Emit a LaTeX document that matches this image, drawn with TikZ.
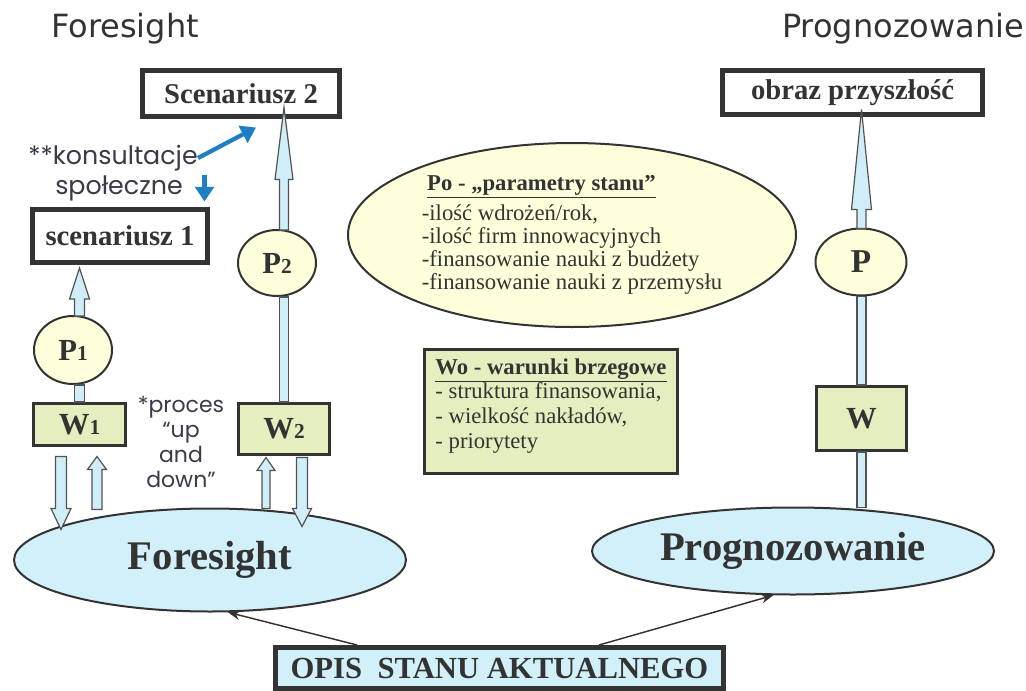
\documentclass[tikz,border=0pt]{standalone}
\usepackage{fontspec}
\setmainfont{Liberation Serif}
\newfontfamily\dvs{DejaVu Sans}
\newfontfamily\ppn{Poppins}
\usetikzlibrary{shapes.geometric,arrows.meta,calc}
\definecolor{dk}{HTML}{333333}
\definecolor{notec}{HTML}{3A3A48}
\definecolor{cyanf}{HTML}{D2F0FA}
\definecolor{arrf}{HTML}{D0EEF8}
\definecolor{yelf}{HTML}{FFFFDC}
\definecolor{grnf}{HTML}{E4EEBE}
\definecolor{blu}{HTML}{1E7FC2}
\newdimen\pxu \pxu=0.75pt
\newcommand\smdig[1]{{\fontsize{16}{16}\selectfont #1}}
\newcommand\thickul[1]{\underline{\smash{#1}}}
% block arrow: start, tip, half shaft, half head, signed head length (px)
\newcommand\blockarr[5]{%
  \draw[barrow] let \p1=(#1), \p2=(#2), \n1={\y2-(#5)*\pxu} in
    ({\x1-#3*\pxu},\y1) -- ({\x1-#3*\pxu},\n1) -- ({\x1-#4*\pxu},\n1)
    -- (\x1,\y2) -- ({\x1+#4*\pxu},\n1) -- ({\x1+#3*\pxu},\n1)
    -- ({\x1+#3*\pxu},\y1) -- cycle;}
\newcommand\shaft[3]{%
  \draw[barrow] let \p1=(#1), \p2=(#2) in
    ({\x1-#3*\pxu},\y1) rectangle ({\x1+#3*\pxu},\y2);}
\tikzset{
 sbox/.style={draw=dk, line width=3.75pt, fill=white, inner sep=0pt, text=dk,
   font=\bfseries\fontsize{21.5}{24}\selectfont},
 wbox/.style={draw=dk, line width=2.25pt, fill=grnf, inner sep=0pt, text=dk,
   font=\bfseries\fontsize{23}{26}\selectfont},
 pcirc/.style={ellipse, draw=dk, line width=1.5pt, fill=yelf, inner sep=0pt, text=dk,
   font=\bfseries\fontsize{23}{26}\selectfont},
 bigell/.style={ellipse, draw=dk, line width=1.5pt, fill=cyanf, inner sep=0pt, text=dk,
   font=\bfseries\fontsize{30.5}{34}\selectfont},
 ttl/.style={text=dk, font=\dvs\fontsize{24}{28}\selectfont, inner sep=0pt},
 note/.style={text=notec, align=center, inner sep=0pt},
 barrow/.style={draw=dk!85, line width=0.9pt, fill=arrf, line join=miter},
 thinarr/.style={draw=dk, line width=1.1pt, -{Stealth[length=9pt,width=7pt]}},
 bluearr/.style={draw=blu, line width=3.2pt, -{Triangle[length=11pt,width=14pt]}},
}
\begin{document}
\begin{tikzpicture}[x=0.75pt,y=-0.75pt]
\useasboundingbox (0,0) rectangle (1026,690);

% titles
\node[ttl] (T1) at (125,29) {Foresight};
\node[ttl] (T2) at (903,29) {Prognozowanie};

% top boxes
\node[sbox, minimum width=197*\pxu, minimum height=46*\pxu] (S2) at (241,93.5) {Scenariusz 2};
\node[sbox, minimum width=175*\pxu, minimum height=53*\pxu] (S1) at (120,236) {scenariusz 1};
\node[sbox, minimum width=260*\pxu, minimum height=44*\pxu] (O) at (852.5,92.5) {obraz przyszłość};

% P circles
\node[pcirc, minimum width=78*\pxu, minimum height=68*\pxu] (P1) at (73,350) {P\smdig{1}};
\node[pcirc, minimum width=78*\pxu, minimum height=66*\pxu] (P2) at (277,263) {P\smdig{2}};
\node[pcirc, minimum width=91*\pxu, minimum height=67*\pxu, font=\bfseries\fontsize{25}{28}\selectfont] (P) at (861,262) {P};

% W boxes
\node[wbox, minimum width=92*\pxu, minimum height=42*\pxu] (W1) at (79.5,424.5) {W\smdig{1}};
\node[wbox, minimum width=91*\pxu, minimum height=51*\pxu] (W2) at (284,429) {W\smdig{2}};
\node[wbox, minimum width=90*\pxu, minimum height=64*\pxu] (W) at (861.5,418.5) {W};

% Po ellipse
\node[ellipse, draw=dk, line width=1.5pt, fill=yelf, inner sep=0pt, text=dk, align=left,
      minimum width=448*\pxu, minimum height=184*\pxu,
      font=\fontsize{17}{17.3}\selectfont] (Po) at (572,235)
  {\hspace{4pt}{\bfseries\underline{Po - „parametry stanu”}}\\[4pt]
   -ilość wdrożeń/rok,\\
   -ilość firm innowacyjnych\\
   -finansowanie nauki z budżety\\
   -finansowanie nauki z przemysłu};

% Wo box
\node[draw=dk, line width=2.6pt, fill=grnf, inner sep=0pt, text=dk, align=left,
      minimum width=252.5*\pxu, minimum height=123.5*\pxu,
      font=\fontsize{17}{18.5}\selectfont] (Wo) at (551,411.5)
  {{\bfseries\underline{Wo - warunki brzegowe}}\\
   - struktura finansowania,\\
   - wielkość nakładów,\\
   - priorytety\\[-6pt]\mbox{}};

% big ellipses
\node[bigell, minimum width=392*\pxu, minimum height=103*\pxu] (Fel) at (210,560) {Foresight};
\node[bigell, minimum width=402*\pxu, minimum height=87*\pxu] (Pel) at (793,551) {Prognozowanie};

% OPIS box
\node[sbox, fill=cyanf, minimum width=448*\pxu, minimum height=41*\pxu,
      font=\bfseries\fontsize{23}{24}\selectfont] (OP) at (499.5,668) {OPIS\ \ STANU AKTUALNEGO};

% notes
\node[note, font=\ppn\fontsize{19}{22}\selectfont] (K1) at (113,158) {**konsultacje};
\node[note, font=\ppn\fontsize{19}{22}\selectfont] (K2) at (119,188) {społeczne};
\node[note, font=\ppn\fontsize{16.5}{18.75}\selectfont] (UD) at (181,442)
  {*proces\\“up\\and\\down”};

% block arrows - left column
\blockarr{$(W1.north |- P1.north)+(0,1)$}{$(W1.north |- S1.south)+(0,3)$}{5}{10}{31}
\shaft{W1.north}{$(W1.north |- P1.south)$}{5}
\blockarr{$(W1.south)+(-18.5,9.5)$}{$(W1.south)+(-18.5,82.5)$}{5.5}{10}{-21}
\blockarr{$(W1.south)+(17.5,62.5)$}{$(W1.south)+(17.5,9.5)$}{5}{9.5}{13}

% block arrows - second column
\shaft{W2.north}{$(W2.north |- P2.south)$}{4.5}
\blockarr{$(W2.north |- P2.north)+(0,1)$}{$(W2.north |- S2.south)+(0,-11.5)$}{4.5}{9}{72}
\blockarr{$(W2.south)+(-18,52.5)$}{$(W2.south)+(-18,1.5)$}{4}{9}{13}
\blockarr{$(W2.south)+(18,1.5)$}{$(W2.south)+(18,70.5)$}{5.5}{9.5}{-18}

% block arrows - right column
\shaft{W.south}{$(W.south |- Pel.north)+(0,1)$}{4.5}
\shaft{W.north}{$(W.north |- P.south)$}{4.5}
\blockarr{$(W.north |- P.north)+(0,1)$}{$(W.north |- O.south)+(0,-7.5)$}{4.5}{10}{100}

% thin arrows
\draw[thinarr] ($(OP.north west)+(84,0)$) -- (Fel.-71);
\draw[thinarr] ($(OP.north east)+(-127,0)$) -- (Pel.-114);

% blue arrows
\draw[bluearr] (K1.east) -- ($(S2.south)+(15,8.5)$);
\draw[bluearr] ($(S1.north east)+(-5.5,-32.5)$) -- ($(S1.north east)+(-5.5,-5.5)$);
\end{tikzpicture}
\end{document}
